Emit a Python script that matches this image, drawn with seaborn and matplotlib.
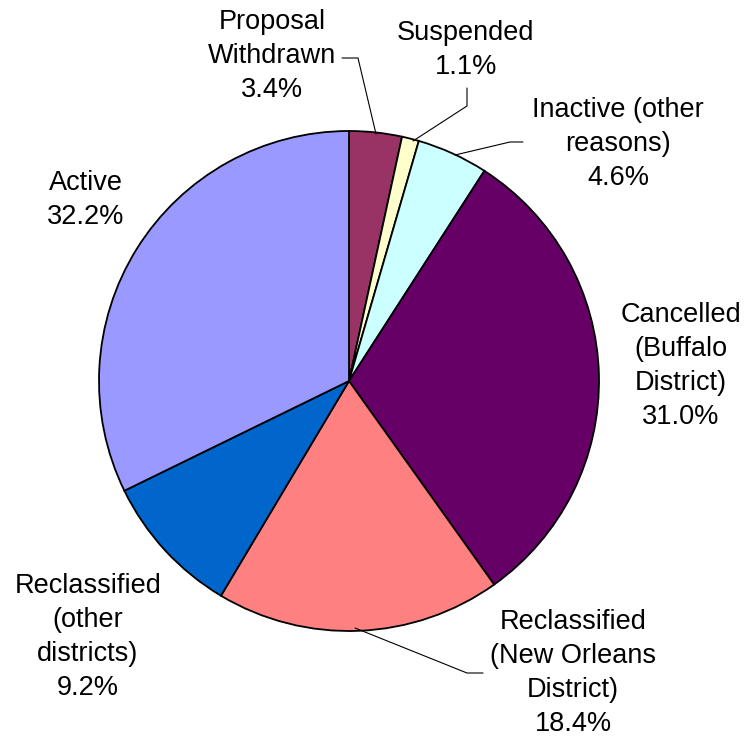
import matplotlib
matplotlib.use("Agg")
import matplotlib.pyplot as plt
import seaborn as sns

# Data
labels = ["Proposal\nWithdrawn", "Suspended", "Inactive (other\nreasons)", "Cancelled\n(Buffalo\nDistrict)",
          "Reclassified\n(New Orleans\nDistrict)", "Reclassified\n(other\ndistricts)", "Active"]
values = [3.4, 1.1, 4.6, 31.0, 18.4, 9.2, 32.2]
colors = ["#993366", "#FFFFCC", "#CCFFFF", "#660066", "#FF8080", "#0066CC", "#9999FF"]

sns.set_theme(style="white")
plt.rcParams['font.family'] = ['Liberation Sans', 'DejaVu Sans']

W, H = 748, 742
fig = plt.figure(figsize=(W / 100, H / 100), dpi=100)
ax = fig.add_axes([0, 0, 1, 1])

cx, cy, r = 349, H - 381, 250
ax.pie(values, colors=colors, startangle=90, counterclock=False, center=(cx, cy), radius=r,
       wedgeprops=dict(edgecolor='black', linewidth=1.3), frame=True)
ax.set_xlim(0, W)
ax.set_ylim(0, H)
ax.set_aspect('equal')
ax.axis('off')

# label positions (image px, y down)
label_pos = [(272, 56), (466, 50), (618, 144), (681, 366), (573, 673), (88, 637), (86, 200)]
for lab, v, (x, y) in zip(labels, values, label_pos):
    ax.text(x, H - y, f"{lab}\n{v:.1f}%", ha='center', va='center', fontsize=19.5,
            linespacing=1.4, color='black')

# leader lines (image px)
leaders = [
    [(376, 134), (358, 58), (342, 58)],
    [(413, 141), (467, 106), (467, 88)],
    [(455, 155), (510, 142), (523, 142)],
    [(355, 628), (467, 673), (483, 673)],
]
for pts in leaders:
    xs = [p[0] for p in pts]
    ys = [H - p[1] for p in pts]
    ax.plot(xs, ys, color='black', linewidth=0.8)

fig.savefig("out.png", dpi=100)
